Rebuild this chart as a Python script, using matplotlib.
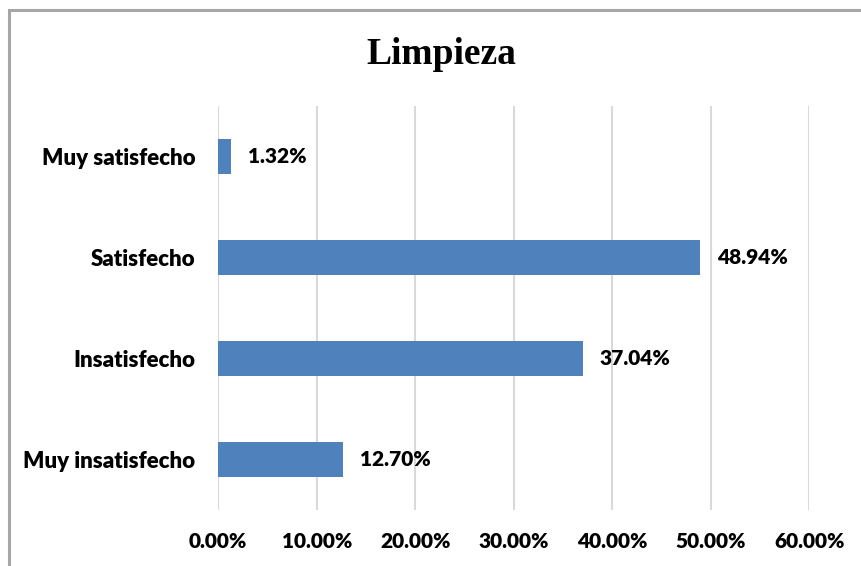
import matplotlib
matplotlib.use("Agg")
import matplotlib.pyplot as plt
from matplotlib.patches import Rectangle
from matplotlib.ticker import FuncFormatter

categories = ["Muy insatisfecho", "Insatisfecho", "Satisfecho", "Muy satisfecho"]
values = [12.70, 37.04, 48.94, 1.32]
xticks = [0, 10, 20, 30, 40, 50, 60]

W, H = 861, 566
fig = plt.figure(figsize=(W / 100, H / 100), dpi=100)
ax = fig.add_axes([218.3 / W, 1 - 510 / H, (809.3 - 218.3) / W, (510 - 106) / H])

fam = ["Lato", "DejaVu Sans"]
wt = "heavy"

ypos = list(range(len(categories)))
ax.barh(ypos, values, height=0.355, color="#4F81BD", zorder=3)
ax.set_ylim(-0.5, len(categories) - 0.5)
ax.set_xlim(0, 60)
ax.set_xticks(xticks)
ax.xaxis.set_major_formatter(FuncFormatter(lambda v, p: f"{v:.2f}%"))
ax.set_yticks(ypos)
ax.set_yticklabels(categories)
for lbl in ax.get_xticklabels():
    lbl.set_fontfamily(fam); lbl.set_fontweight(wt); lbl.set_fontsize(15); lbl.set_color("#000000")
for lbl in ax.get_yticklabels():
    lbl.set_fontfamily(fam); lbl.set_fontweight(wt); lbl.set_fontsize(16); lbl.set_color("#000000")
ax.tick_params(axis="y", length=0, pad=16.5)
ax.tick_params(axis="x", length=0, pad=16)
ax.grid(axis="x", color="#D9D9D9", linewidth=1.5, zorder=0)
for s in ax.spines.values():
    s.set_visible(False)

for y, v in zip(ypos, values):
    ax.annotate(f"{v:.2f}%", xy=(v, y), xytext=(12, 0), textcoords="offset points",
                va="center", ha="left", family=fam, weight=wt, size=15)

fig.text(441 / W, 1 - 55 / H, "Limpieza", ha="center", va="center",
         family=["Liberation Serif", "DejaVu Serif"], weight="bold", size=27)

fig.add_artist(Rectangle((8.5 / W, -0.1), 1.2, (H - 9.5) / H + 0.1, transform=fig.transFigure,
                         fill=False, edgecolor="#A6A6A6", linewidth=2.2))

fig.savefig("out.png", dpi=100, facecolor="white")
